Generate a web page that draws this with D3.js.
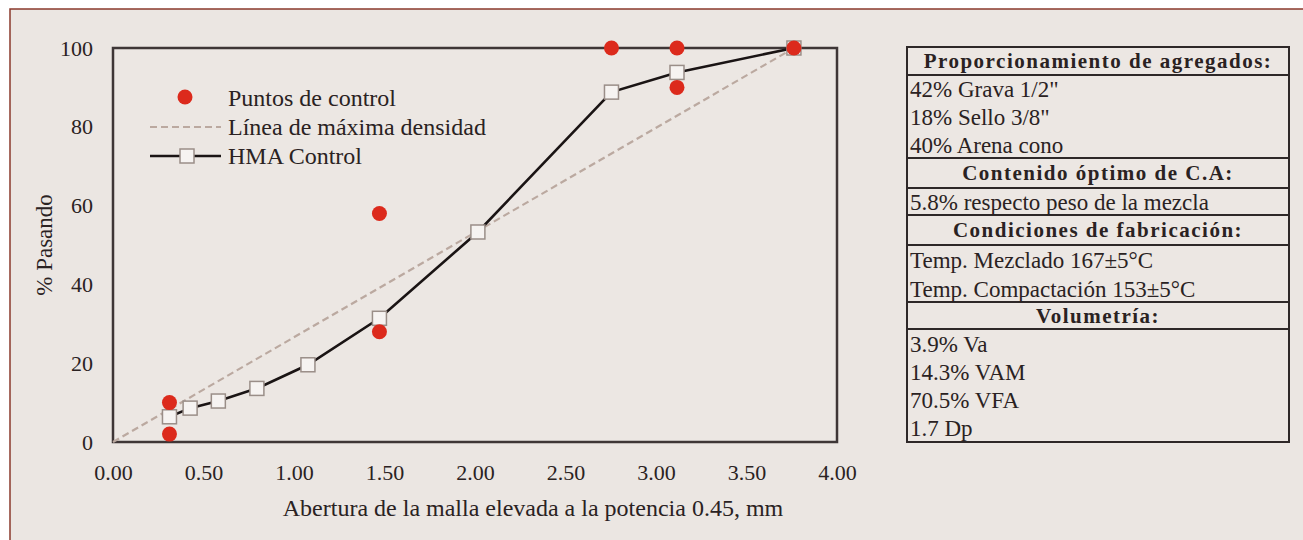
<!DOCTYPE html>
<html>
  <head>
    <meta charset="utf-8" />
    <title>Granulometría HMA</title>
    <script src="https://d3js.org/d3.v7.min.js"></script>
    <style>
      body { margin: 0; background: #ffffff; }
      svg text { font-family: "Liberation Serif", "DejaVu Serif", serif; fill: #2a2222; }
    </style>
  </head>
  <body>
    <svg width="1303" height="540" id="chart"></svg>

    <script>
      // sieve opening ^0.45 (x) and % passing (y)
      var hmaX = [0.312, 0.426, 0.582, 0.795, 1.077, 1.472, 2.016, 2.754, 3.116, 3.762];
      var hmaY = [6.4, 8.6, 10.4, 13.6, 19.6, 31.4, 53.3, 88.8, 93.8, 100];

      var controlX = [0.312, 0.312, 1.472, 1.472, 2.754, 3.116, 3.116, 3.762];
      var controlY = [10, 2, 58, 28, 100, 100, 90, 100];

      var maxDensX = [0, 3.762];
      var maxDensY = [0, 100];

      var xTicks = [0, 0.5, 1, 1.5, 2, 2.5, 3, 3.5, 4];
      var yTicks = [0, 20, 40, 60, 80, 100];

      var legendLabels = ["Puntos de control", "Línea de máxima densidad", "HMA Control"];

      // side table: [text, is header]
      var tableRows = [
        ["Proporcionamiento de agregados:", true],
        ["42% Grava 1/2\"", false],
        ["18% Sello 3/8\"", false],
        ["40% Arena cono", false],
        ["Contenido óptimo de C.A:", true],
        ["5.8% respecto peso de la mezcla", false],
        ["Condiciones de fabricación:", true],
        ["Temp. Mezclado 167±5°C", false],
        ["Temp. Compactación 153±5°C", false],
        ["Volumetría:", true],
        ["3.9% Va", false],
        ["14.3% VAM", false],
        ["70.5% VFA", false],
        ["1.7 Dp", false]
      ];

      var svg = d3.select("#chart");

      // panel background and frame
      svg.append("rect").attr("x", 10).attr("y", 9).attr("width", 1300).attr("height", 540)
        .attr("fill", "#ebe6e2").attr("stroke", "#8a3a2c").attr("stroke-width", 1.5);

      var pLeft = 113, pRight = 837, pTop = 48, pBottom = 442;

      var x = d3.scaleLinear().domain([0, 4]).range([pLeft, pRight]);
      var y = d3.scaleLinear().domain([0, 100]).range([pBottom, pTop]);

      // plot frame
      svg.append("rect").attr("x", pLeft).attr("y", pTop)
        .attr("width", pRight - pLeft).attr("height", pBottom - pTop)
        .attr("fill", "#ece7e3").attr("stroke", "#3e3636").attr("stroke-width", 2.5);

      // axes (labels only)
      var xAxis = svg.append("g").attr("transform", "translate(0," + pBottom + ")")
        .call(d3.axisBottom(x).tickValues(xTicks).tickFormat(d3.format(".2f")).tickSize(0).tickPadding(22));
      var yAxis = svg.append("g").attr("transform", "translate(" + pLeft + ",0)")
        .call(d3.axisLeft(y).tickValues(yTicks).tickSize(0).tickPadding(20));
      [xAxis, yAxis].forEach(function(a) {
        a.select(".domain").remove();
        a.selectAll("text").attr("font-size", 22).attr("font-family", "Liberation Serif").attr("fill", "#2a2222");
      });

      svg.append("text").attr("x", 533).attr("y", 516).attr("text-anchor", "middle")
        .attr("font-size", 24).text("Abertura de la malla elevada a la potencia 0.45, mm");
      svg.append("text").attr("transform", "translate(52,245) rotate(-90)").attr("text-anchor", "middle")
        .attr("font-size", 23).text("% Pasando");

      // max density line
      var line = d3.line().x(function(d) { return x(d[0]); }).y(function(d) { return y(d[1]); });
      svg.append("path").datum(d3.zip(maxDensX, maxDensY)).attr("d", line)
        .attr("fill", "none").attr("stroke", "#bba9a0").attr("stroke-width", 2.2).attr("stroke-dasharray", "7,4");

      // HMA curve
      var hma = d3.zip(hmaX, hmaY);
      svg.append("path").datum(hma).attr("d", line)
        .attr("fill", "none").attr("stroke", "#1a1414").attr("stroke-width", 2.6);

      svg.selectAll("rect.sq").data(hma).join("rect")
        .attr("class", "sq")
        .attr("x", function(d) { return x(d[0]) - 7; })
        .attr("y", function(d) { return y(d[1]) - 7; })
        .attr("width", 14).attr("height", 14)
        .attr("fill", "#f6f3f1").attr("stroke", "#9a8e88").attr("stroke-width", 1.5);

      // control points (drawn over the squares)
      svg.selectAll("circle.ctrl").data(d3.zip(controlX, controlY)).join("circle")
        .attr("class", "ctrl")
        .attr("cx", function(d) { return x(d[0]); })
        .attr("cy", function(d) { return y(d[1]); })
        .attr("r", 7.5).attr("fill", "#dc2a1c");

      // legend
      var lg = svg.append("g");
      legendLabels.forEach(function(t, i) {
        var ly = 98 + i * 29;
        lg.append("text").attr("x", 228).attr("y", ly).attr("dy", "0.35em")
          .attr("font-size", 24).text(t);
      });
      lg.append("circle").attr("cx", 185).attr("cy", 97).attr("r", 7.5).attr("fill", "#dc2a1c");
      lg.append("line").attr("x1", 150).attr("x2", 221).attr("y1", 127).attr("y2", 127)
        .attr("stroke", "#bba9a0").attr("stroke-width", 2.2).attr("stroke-dasharray", "7,4");
      lg.append("line").attr("x1", 150).attr("x2", 221).attr("y1", 156).attr("y2", 156)
        .attr("stroke", "#1a1414").attr("stroke-width", 2.6);
      lg.append("rect").attr("x", 180).attr("y", 149).attr("width", 14).attr("height", 14)
        .attr("fill", "#f6f3f1").attr("stroke", "#9a8e88").attr("stroke-width", 1.5);

      // side table
      var tx0 = 907, tx1 = 1289;
      var rowTops = [47, 75, 103, 131, 158, 188, 215, 245, 275, 302, 329, 358, 386, 414, 442];
      var tg = svg.append("g");
      tg.append("rect").attr("x", tx0).attr("y", rowTops[0]).attr("width", tx1 - tx0)
        .attr("height", rowTops[rowTops.length - 1] - rowTops[0])
        .attr("fill", "#ece7e3").attr("stroke", "#2e2828").attr("stroke-width", 2);
      tableRows.forEach(function(r, i) {
        var yTop = rowTops[i], yBot = rowTops[i + 1];
        var next = tableRows[i + 1];
        // separators around header rows
        if (r[1] || (next && next[1])) {
          tg.append("line").attr("x1", tx0).attr("x2", tx1).attr("y1", yBot).attr("y2", yBot)
            .attr("stroke", "#2e2828").attr("stroke-width", 2);
        }
        var t = tg.append("text").attr("y", (yTop + yBot) / 2).attr("dy", "0.35em").text(r[0]);
        if (r[1]) {
          t.attr("x", (tx0 + tx1) / 2).attr("text-anchor", "middle").attr("font-weight", "bold")
            .attr("font-size", 21).attr("letter-spacing", 1.5);
        } else {
          t.attr("x", tx0 + 3).attr("font-size", 23);
        }
      });
    </script>
  </body>
</html>
